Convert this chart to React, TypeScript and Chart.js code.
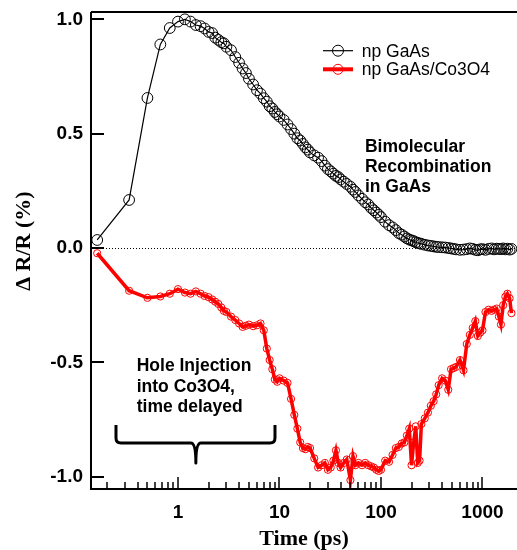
import React, { useEffect, useRef } from "react";
import { Chart, registerables } from "chart.js";

Chart.register(...registerables);

// ---- Data ----
const timePs = [
  0.16, 0.33, 0.5, 0.67, 0.83, 1.0, 1.17, 1.33, 1.5, 1.67, 1.83, 2.0, 2.17, 2.33, 2.5, 2.67, 2.83, 3.0,
  3.33, 3.67, 4.0, 4.33, 4.67, 5.0, 5.5, 6.0, 6.5, 7.0, 7.5, 8.0, 8.5, 9.0, 9.5, 10, 11, 12, 13, 14, 15,
  16, 17, 18, 19, 20, 22, 24, 26, 28, 30, 32, 34, 36, 38, 40, 43, 46, 50, 53, 56, 60, 65, 70, 75, 80, 85,
  90, 95, 100, 110, 120, 130, 140, 150, 160, 170, 180, 190, 200, 210, 220, 230, 240, 250, 270, 290, 310,
  330, 350, 370, 400, 430, 460, 490, 520, 550, 600, 650, 700, 750, 800, 850, 900, 950, 1000, 1070, 1150,
  1230, 1300, 1380, 1450, 1520, 1600, 1680, 1760, 1850, 1930,
];

const npGaAs = [
  0.035, 0.21, 0.656, 0.89, 0.962, 0.99, 1.0, 0.99, 0.975, 0.97, 0.96, 0.945, 0.94, 0.92, 0.91, 0.9, 0.895, 0.88,
  0.865, 0.835, 0.81, 0.785, 0.765, 0.74, 0.715, 0.69, 0.675, 0.655, 0.64, 0.62, 0.61, 0.595, 0.585, 0.575, 0.56, 0.54, 0.52, 0.5, 0.48,
  0.47, 0.455, 0.44, 0.43, 0.418, 0.405, 0.395, 0.38, 0.36, 0.345, 0.335, 0.325, 0.315, 0.31, 0.3, 0.29, 0.28, 0.268, 0.255, 0.245, 0.23, 0.215, 0.2, 0.19, 0.175, 0.165,
  0.155, 0.145, 0.135, 0.115, 0.1, 0.09, 0.078, 0.065, 0.058, 0.05, 0.042, 0.037, 0.033, 0.03, 0.025, 0.022, 0.02, 0.018, 0.014, 0.011, 0.009,
  0.007, 0.005, 0.004, 0.003, 0.002, 0.0, -0.002, -0.004, -0.006, -0.008, -0.007, -0.005, -0.002, -0.004, -0.008, -0.01, -0.006, -0.005, -0.008, -0.004,
  -0.002, -0.006, -0.003, -0.004, -0.005, -0.002, -0.006, -0.003, -0.007, -0.004,
];

const npGaAsCo3O4 = [
  -0.023, -0.187, -0.218, -0.212, -0.2, -0.18, -0.195, -0.2, -0.19, -0.2, -0.21, -0.215, -0.225, -0.235, -0.245, -0.26, -0.275, -0.28,
  -0.3, -0.315, -0.33, -0.345, -0.34, -0.335, -0.342, -0.338, -0.33, -0.36, -0.44, -0.49, -0.53, -0.575, -0.585, -0.57, -0.58, -0.59, -0.66, -0.73, -0.79,
  -0.85, -0.875, -0.88, -0.87, -0.875, -0.92, -0.96, -0.95, -0.94, -0.97, -0.96, -0.93, -0.885, -0.94, -0.96, -0.94, -0.925, -1.015, -0.91, -0.95, -0.94, -0.95, -0.94, -0.95, -0.955, -0.96,
  -0.97, -0.975, -0.97, -0.93, -0.935, -0.905, -0.875, -0.87, -0.855, -0.85, -0.82, -0.79, -0.95, -0.85, -0.78, -0.94, -0.93, -0.77, -0.745, -0.72, -0.69,
  -0.67, -0.64, -0.6, -0.57, -0.58, -0.62, -0.53, -0.525, -0.52, -0.49, -0.535, -0.42, -0.38, -0.35, -0.32, -0.385, -0.37, -0.36, -0.28, -0.27,
  -0.275, -0.27, -0.265, -0.3, -0.335, -0.25, -0.213, -0.2, -0.22, -0.285,
];

const seriesLabels = ["np GaAs", "np GaAs/Co3O4"];
const yTickValues = [-1, -0.5, 0, 0.5, 1];
const xTickValues = [1, 10, 100, 1000];
const xMinorTickValues = [
  0.2, 0.3, 0.4, 0.5, 0.6, 0.7, 0.8, 0.9, 2, 3, 4, 5, 6, 7, 8, 9, 20, 30, 40, 50, 60, 70, 80, 90,
  200, 300, 400, 500, 600, 700, 800, 900,
];
const xRange = [0.139, 2188];
const yRange = [-1.054, 1.032];
const xTitle = "Time (ps)";
const yTitle = "\u0394 R/R (%)";
const noteBimolecular = ["Bimolecular", "Recombination", "in GaAs"];
const noteHole = ["Hole Injection", "into Co3O4,", "time delayed"];

const SANS = '"Liberation Sans", Arial, Helvetica, sans-serif';
const SERIF = '"Liberation Serif", "Times New Roman", Times, serif';

const decorPlugin = {
  id: "decor",
  beforeDatasetsDraw(chart: any) {
    const { ctx, chartArea, scales } = chart;
    const y0 = scales.y.getPixelForValue(0);
    ctx.save();
    ctx.strokeStyle = "#000";
    ctx.lineWidth = 1;
    ctx.setLineDash([1, 2]);
    ctx.beginPath();
    ctx.moveTo(chartArea.left, Math.round(y0) + 0.5);
    ctx.lineTo(chartArea.right, Math.round(y0) + 0.5);
    ctx.stroke();
    ctx.restore();
  },
  afterDatasetsDraw(chart: any) {
    const { ctx, chartArea, scales } = chart;
    const xs = scales.x;
    const ys = scales.y;
    ctx.save();
    ctx.strokeStyle = "#000";
    ctx.fillStyle = "#000";
    // frame
    ctx.lineWidth = 2;
    ctx.beginPath();
    ctx.moveTo(chartArea.left, chartArea.top);
    ctx.lineTo(chartArea.right, chartArea.top);
    ctx.moveTo(chartArea.left, chartArea.top);
    ctx.lineTo(chartArea.left, chartArea.bottom);
    ctx.lineTo(chartArea.right, chartArea.bottom);
    ctx.stroke();
    // inward y ticks
    ctx.lineWidth = 2;
    ctx.beginPath();
    for (const v of yTickValues) {
      const p = Math.round(ys.getPixelForValue(v));
      ctx.moveTo(chartArea.left, p);
      ctx.lineTo(chartArea.left + 13, p);
    }
    ctx.stroke();
    // inward x ticks
    ctx.lineWidth = 1.5;
    ctx.beginPath();
    for (const v of xTickValues) {
      const p = Math.round(xs.getPixelForValue(v));
      ctx.moveTo(p, chartArea.bottom);
      ctx.lineTo(p, chartArea.bottom - 12);
    }
    for (const v of xMinorTickValues) {
      const p = Math.round(xs.getPixelForValue(v));
      ctx.moveTo(p, chartArea.bottom);
      ctx.lineTo(p, chartArea.bottom - 7);
    }
    ctx.stroke();

    // brace
    const bx0 = xs.getPixelForValue(0.245);
    const bxm = xs.getPixelForValue(1.5);
    const bx1 = xs.getPixelForValue(9.03);
    const byTop = ys.getPixelForValue(-0.774);
    const byBar = ys.getPixelForValue(-0.853);
    const byTip = ys.getPixelForValue(-0.94);
    ctx.lineWidth = 3;
    ctx.lineJoin = "round";
    ctx.beginPath();
    ctx.moveTo(bx0, byTop);
    ctx.lineTo(bx0, byBar - 5);
    ctx.quadraticCurveTo(bx0, byBar, bx0 + 5, byBar);
    ctx.lineTo(bxm - 5, byBar);
    ctx.quadraticCurveTo(bxm, byBar, bxm, byTip);
    ctx.quadraticCurveTo(bxm, byBar, bxm + 5, byBar);
    ctx.lineTo(bx1 - 5, byBar);
    ctx.quadraticCurveTo(bx1, byBar, bx1, byBar - 5);
    ctx.lineTo(bx1, byTop);
    ctx.stroke();

    // notes
    ctx.font = `bold 17.5px ${SANS}`;
    ctx.textBaseline = "middle";
    ctx.textAlign = "left";
    const bxText = xs.getPixelForValue(69.5);
    const byText = ys.getPixelForValue(0.443);
    noteBimolecular.forEach((t, i) => ctx.fillText(t, bxText, byText + i * 20.2));
    const hxText = xs.getPixelForValue(0.392);
    const hyText = ys.getPixelForValue(-0.519);
    noteHole.forEach((t, i) => ctx.fillText(t, hxText, hyText + i * 20.2));

    // legend
    const lx0 = chartArea.left + 232;
    const lx1 = chartArea.left + 262;
    const lcx = (lx0 + lx1) / 2;
    const entries = [
      { label: seriesLabels[0], color: "#000", lw: 1.2, y: chartArea.top + 38.7, r: 5.5 },
      { label: seriesLabels[1], color: "#ff0000", lw: 4, y: chartArea.top + 57.3, r: 5 },
    ];
    ctx.font = `17.5px ${SANS}`;
    for (const e of entries) {
      ctx.strokeStyle = e.color;
      ctx.lineWidth = e.lw;
      ctx.beginPath();
      ctx.moveTo(lx0, e.y);
      ctx.lineTo(lx1, e.y);
      ctx.stroke();
      ctx.lineWidth = 1;
      ctx.beginPath();
      ctx.arc(lcx, e.y, e.r, 0, Math.PI * 2);
      ctx.stroke();
      ctx.fillStyle = "#000";
      ctx.fillText(e.label, chartArea.left + 270.7, e.y + 1);
    }

    // y axis title (rotated)
    ctx.save();
    ctx.translate(24, ys.getPixelForValue(0.03));
    ctx.rotate(-Math.PI / 2);
    ctx.font = `bold 22px ${SERIF}`;
    ctx.textAlign = "center";
    ctx.textBaseline = "middle";
    ctx.fillStyle = "#000";
    ctx.fillText(yTitle, 0, 0);
    ctx.restore();

    ctx.restore();
  },
};

export default function App() {
  const canvasRef = useRef<HTMLCanvasElement | null>(null);

  useEffect(() => {
    if (!canvasRef.current) return;
    const chart = new Chart(canvasRef.current, {
      type: "line",
      data: {
        datasets: [
          {
            label: seriesLabels[0],
            data: timePs.map((t, i) => ({ x: t, y: npGaAs[i] })),
            borderColor: "#000",
            borderWidth: 1.2,
            pointRadius: 5.4,
            pointBorderWidth: 1,
            pointBorderColor: "#000",
            pointBackgroundColor: "rgba(0,0,0,0)",
            tension: 0,
          },
          {
            label: seriesLabels[1],
            data: timePs.map((t, i) => ({ x: t, y: npGaAsCo3O4[i] })),
            borderColor: "#ff0000",
            borderWidth: 3.5,
            pointRadius: 3.6,
            pointBorderWidth: 1,
            pointBorderColor: "#ff0000",
            pointBackgroundColor: "rgba(0,0,0,0)",
            tension: 0,
          },
        ],
      },
      options: {
        responsive: false,
        animation: false,
        events: [],
        layout: { autoPadding: false, padding: { left: 0, top: 12, right: 0, bottom: 0 } },
        plugins: { legend: { display: false }, tooltip: { enabled: false } },
        scales: {
          x: {
            type: "logarithmic",
            min: xRange[0],
            max: xRange[1],
            grid: { display: false, drawTicks: false },
            border: { display: false },
            afterBuildTicks: (s: any) => {
              s.ticks = xTickValues.map((v) => ({ value: v }));
            },
            afterFit: (s: any) => {
              s.height = 61;
              s.paddingLeft = 0;
              s.paddingRight = 0;
            },
            ticks: {
              autoSkip: false,
              maxRotation: 0,
              padding: 12,
              color: "#000",
              font: { family: SANS, size: 19, weight: "bold" },
              callback: (v: any) => String(v),
            },
            title: {
              display: true,
              text: xTitle,
              color: "#000",
              font: { family: SERIF, size: 22, weight: "bold", lineHeight: 1 },
              padding: { top: 0, bottom: 0 },
            },
          },
          y: {
            type: "linear",
            min: yRange[0],
            max: yRange[1],
            grid: { display: false, drawTicks: false },
            border: { display: false },
            afterBuildTicks: (s: any) => {
              s.ticks = yTickValues.map((v) => ({ value: v }));
            },
            afterFit: (s: any) => {
              s.width = 91;
              s.paddingTop = 0;
              s.paddingBottom = 0;
            },
            ticks: {
              padding: 8,
              color: "#000",
              font: { family: SANS, size: 19, weight: "bold" },
              callback: (v: any) => Number(v).toFixed(1),
            },
          },
        },
      },
      plugins: [decorPlugin],
    } as any);
    return () => chart.destroy();
  }, []);

  return (
    <div style={{ position: "absolute", left: 0, top: 0, width: 517, height: 550, background: "#fff" }}>
      <canvas ref={canvasRef} width={517} height={550} />
    </div>
  );
}
